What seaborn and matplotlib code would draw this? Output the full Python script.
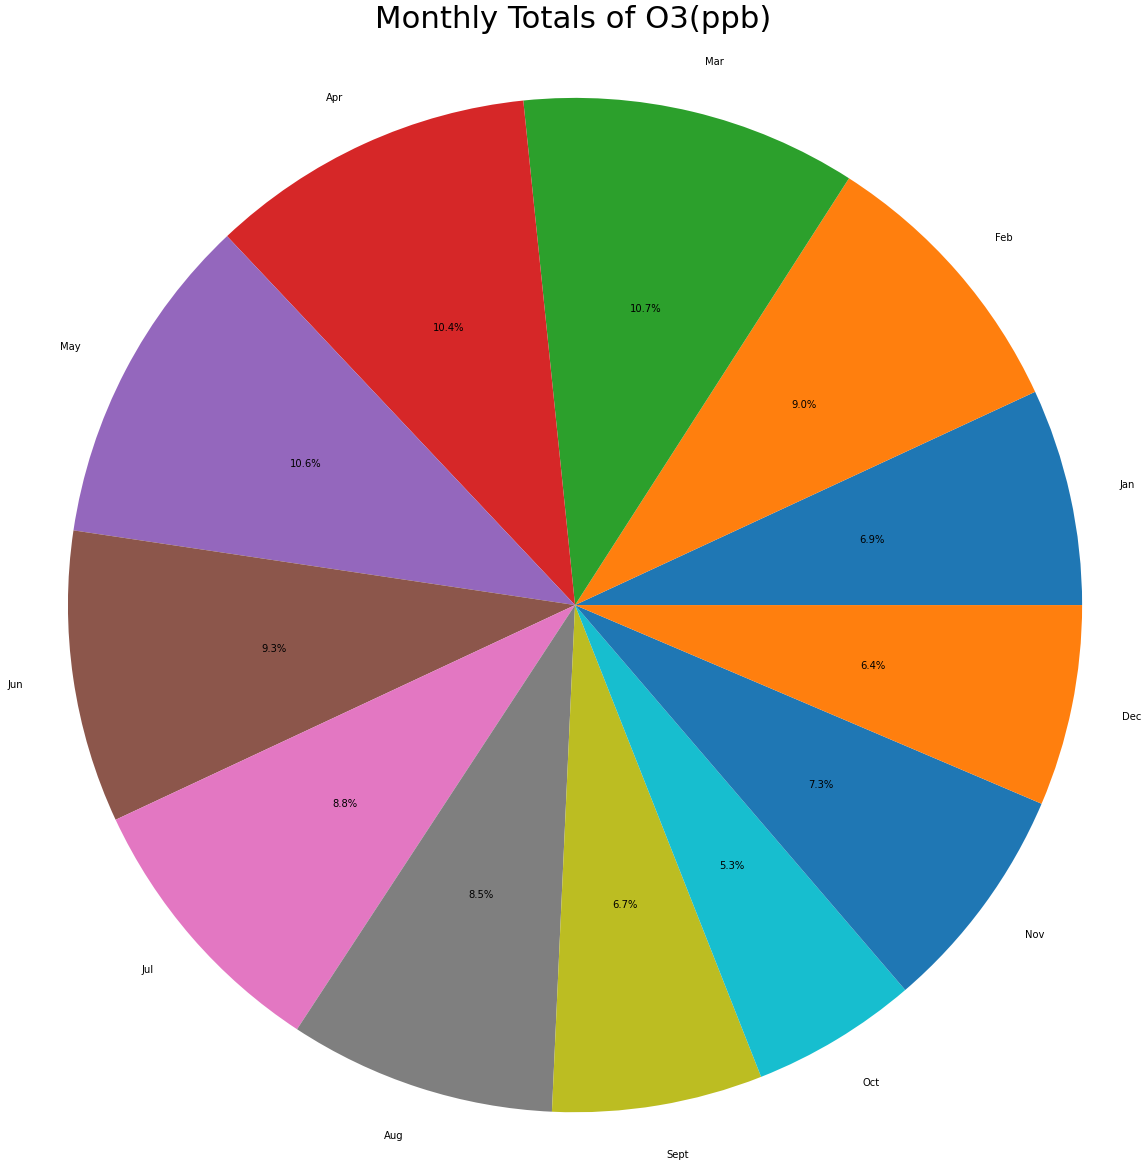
import matplotlib
matplotlib.use("Agg")
import matplotlib.pyplot as plt
import seaborn as sns

months = ["Jan", "Feb", "Mar", "Apr", "May", "Jun",
          "Jul", "Aug", "Sept", "Oct", "Nov", "Dec"]
# monthly O3 totals, expressed as share of the year (%)
o3_share = [6.9, 9.0, 10.7, 10.4, 10.6, 9.3, 8.8, 8.5, 6.7, 5.3, 7.3, 6.4]

colors = sns.color_palette("tab10", 10)
colors = [colors[i % 10] for i in range(len(months))]

dpi = 72
fig = plt.figure(figsize=(1146 / dpi, 1166 / dpi), dpi=dpi)
ax = fig.add_axes([0, 0, 1, 1])
ax.pie(
    o3_share,
    labels=months,
    colors=colors,
    autopct="%1.1f%%",
    labeldistance=1.1,
    textprops={"fontsize": 10},
)
ax.set_aspect("auto")
ax.set_xlim(-1.134, 1.126)
ax.set_ylim(-1.106, 1.193)
ax.axis("off")
fig.text(0.5, 1 - 20 / 1166, "Monthly Totals of O3(ppb)", fontsize=30.7,
         ha="center", va="center")

fig.savefig("out.png", dpi=dpi)
